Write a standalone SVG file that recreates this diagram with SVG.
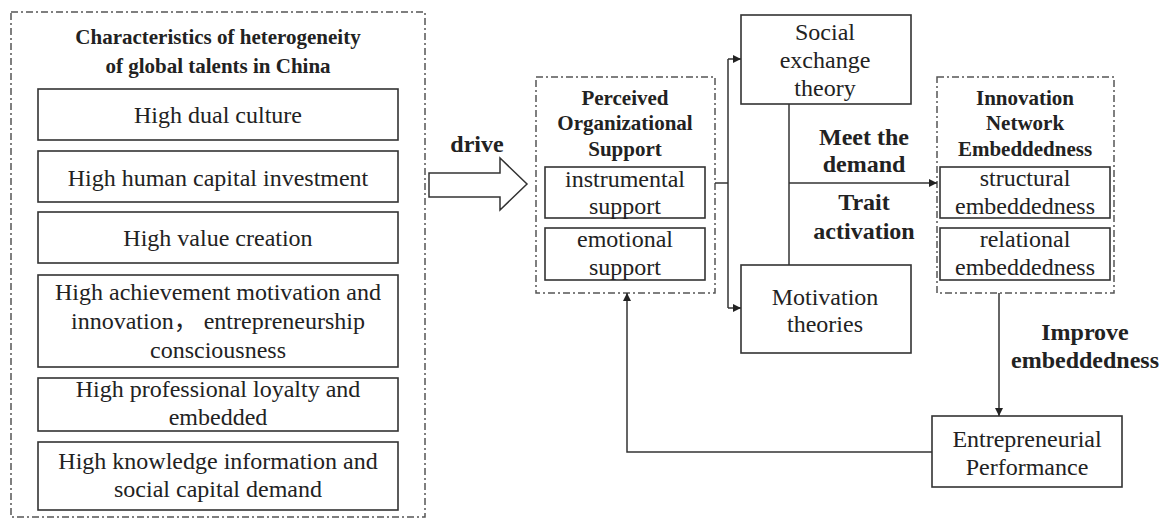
<svg xmlns="http://www.w3.org/2000/svg" width="1168" height="521" viewBox="0 0 1168 521">
<style>
.bg{fill:#fff}
.dash{fill:none;stroke:#555;stroke-width:1.5;stroke-dasharray:7 3 2 3}
.box{fill:#fff;stroke:#333;stroke-width:1.6}
.tx{font-family:"Liberation Serif","Noto Sans CJK SC",serif;font-size:24px;fill:#222;text-anchor:middle}
.tb{font-family:"Liberation Serif",serif;font-size:21px;font-weight:bold;fill:#222;text-anchor:middle}
.tl{font-family:"Liberation Serif",serif;font-size:24px;font-weight:bold;fill:#222;text-anchor:middle}
.ln{fill:none;stroke:#333;stroke-width:1.5}
</style>
<defs>
<marker id="ah" viewBox="0 0 10 10" refX="10" refY="5" markerWidth="9" markerHeight="8" markerUnits="userSpaceOnUse" orient="auto">
<path d="M0,0 L10,5 L0,10 Z" fill="#222"/>
</marker>
</defs>
<rect class="bg" x="0" y="0" width="1168" height="521"/>

<g id="characteristics">
<rect class="dash" x="11" y="12" width="414" height="505"/>
<text class="tb" x="218" y="44">Characteristics of heterogeneity</text>
<text class="tb" x="218" y="73">of global talents in China</text>
</g>
<g id="high-dual-culture">
<rect class="box" x="38" y="89" width="360" height="51"/>
<text class="tx" x="218" y="123">High dual culture</text>
</g>
<g id="high-human-capital">
<rect class="box" x="38" y="151" width="360" height="51"/>
<text class="tx" x="218" y="186">High human capital investment</text>
</g>
<g id="high-value-creation">
<rect class="box" x="38" y="212" width="360" height="51"/>
<text class="tx" x="218" y="246">High value creation</text>
</g>
<g id="high-achievement">
<rect class="box" x="38" y="275" width="360" height="92"/>
<text class="tx" x="218" y="300">High achievement motivation and</text>
<text class="tx" x="218" y="329">innovation，  entrepreneurship</text>
<text class="tx" x="218" y="358">consciousness</text>
</g>
<g id="high-professional-loyalty">
<rect class="box" x="38" y="378" width="360" height="53"/>
<text class="tx" x="218" y="397">High professional loyalty and</text>
<text class="tx" x="218" y="425">embedded</text>
</g>
<g id="high-knowledge">
<rect class="box" x="38" y="442" width="360" height="68"/>
<text class="tx" x="218" y="469">High knowledge information and</text>
<text class="tx" x="218" y="497">social capital demand</text>
</g>

<g id="drive">
<polygon points="429,173 500,173 500,158 527,184 500,210 500,197 429,197" fill="#fff" stroke="#333" stroke-width="1.5"/>
<text class="tl" x="477" y="152">drive</text>
</g>

<g id="perceived-organizational-support">
<rect class="dash" x="536" y="77" width="179" height="216"/>
<text class="tb" x="625" y="105">Perceived</text>
<text class="tb" x="625" y="130">Organizational</text>
<text class="tb" x="625" y="156">Support</text>
</g>
<g id="instrumental-support">
<rect class="box" x="545" y="167" width="160" height="51"/>
<text class="tx" x="625" y="187">instrumental</text>
<text class="tx" x="625" y="214">support</text>
</g>
<g id="emotional-support">
<rect class="box" x="545" y="228" width="160" height="52"/>
<text class="tx" x="625" y="247">emotional</text>
<text class="tx" x="625" y="275">support</text>
</g>

<g id="social-exchange-theory">
<rect class="box" x="741" y="15" width="170" height="89"/>
<text class="tx" x="825" y="40">Social</text>
<text class="tx" x="825" y="68">exchange</text>
<text class="tx" x="825" y="96">theory</text>
</g>
<g id="motivation-theories">
<rect class="box" x="741" y="265" width="170" height="88"/>
<text class="tx" x="825" y="305">Motivation</text>
<text class="tx" x="825" y="332">theories</text>
</g>

<g id="innovation-network-embeddedness">
<rect class="dash" x="937" y="77" width="177" height="216"/>
<text class="tb" x="1025" y="105">Innovation</text>
<text class="tb" x="1025" y="130">Network</text>
<text class="tb" x="1025" y="156">Embeddedness</text>
</g>
<g id="structural-embeddedness">
<rect class="box" x="940" y="167" width="170" height="51"/>
<text class="tx" x="1025" y="186">structural</text>
<text class="tx" x="1025" y="214">embeddedness</text>
</g>
<g id="relational-embeddedness">
<rect class="box" x="940" y="228" width="170" height="52"/>
<text class="tx" x="1025" y="247">relational</text>
<text class="tx" x="1025" y="275">embeddedness</text>
</g>

<g id="entrepreneurial-performance">
<rect class="box" x="932" y="416" width="190" height="71"/>
<text class="tx" x="1027" y="447">Entrepreneurial</text>
<text class="tx" x="1027" y="475">Performance</text>
</g>

<g id="connectors">
<path class="ln" d="M715,183 H728"/>
<path class="ln" d="M728,59 V308"/>
<path class="ln" d="M728,59 H741" marker-end="url(#ah)"/>
<path class="ln" d="M728,308 H741" marker-end="url(#ah)"/>
<path class="ln" d="M789,104 V265"/>
<path class="ln" d="M789,183 H937" stroke-width="2.2" marker-end="url(#ah)"/>
<path class="ln" d="M999,293 V416" marker-end="url(#ah)"/>
<path class="ln" d="M932,452 H627 V293" marker-end="url(#ah)"/>
<text class="tl" x="864" y="145">Meet the</text>
<text class="tl" x="864" y="172">demand</text>
<text class="tl" x="864" y="210">Trait</text>
<text class="tl" x="864" y="239">activation</text>
<text class="tl" x="1085" y="340">Improve</text>
<text class="tl" x="1085" y="368">embeddedness</text>
</g>
</svg>
